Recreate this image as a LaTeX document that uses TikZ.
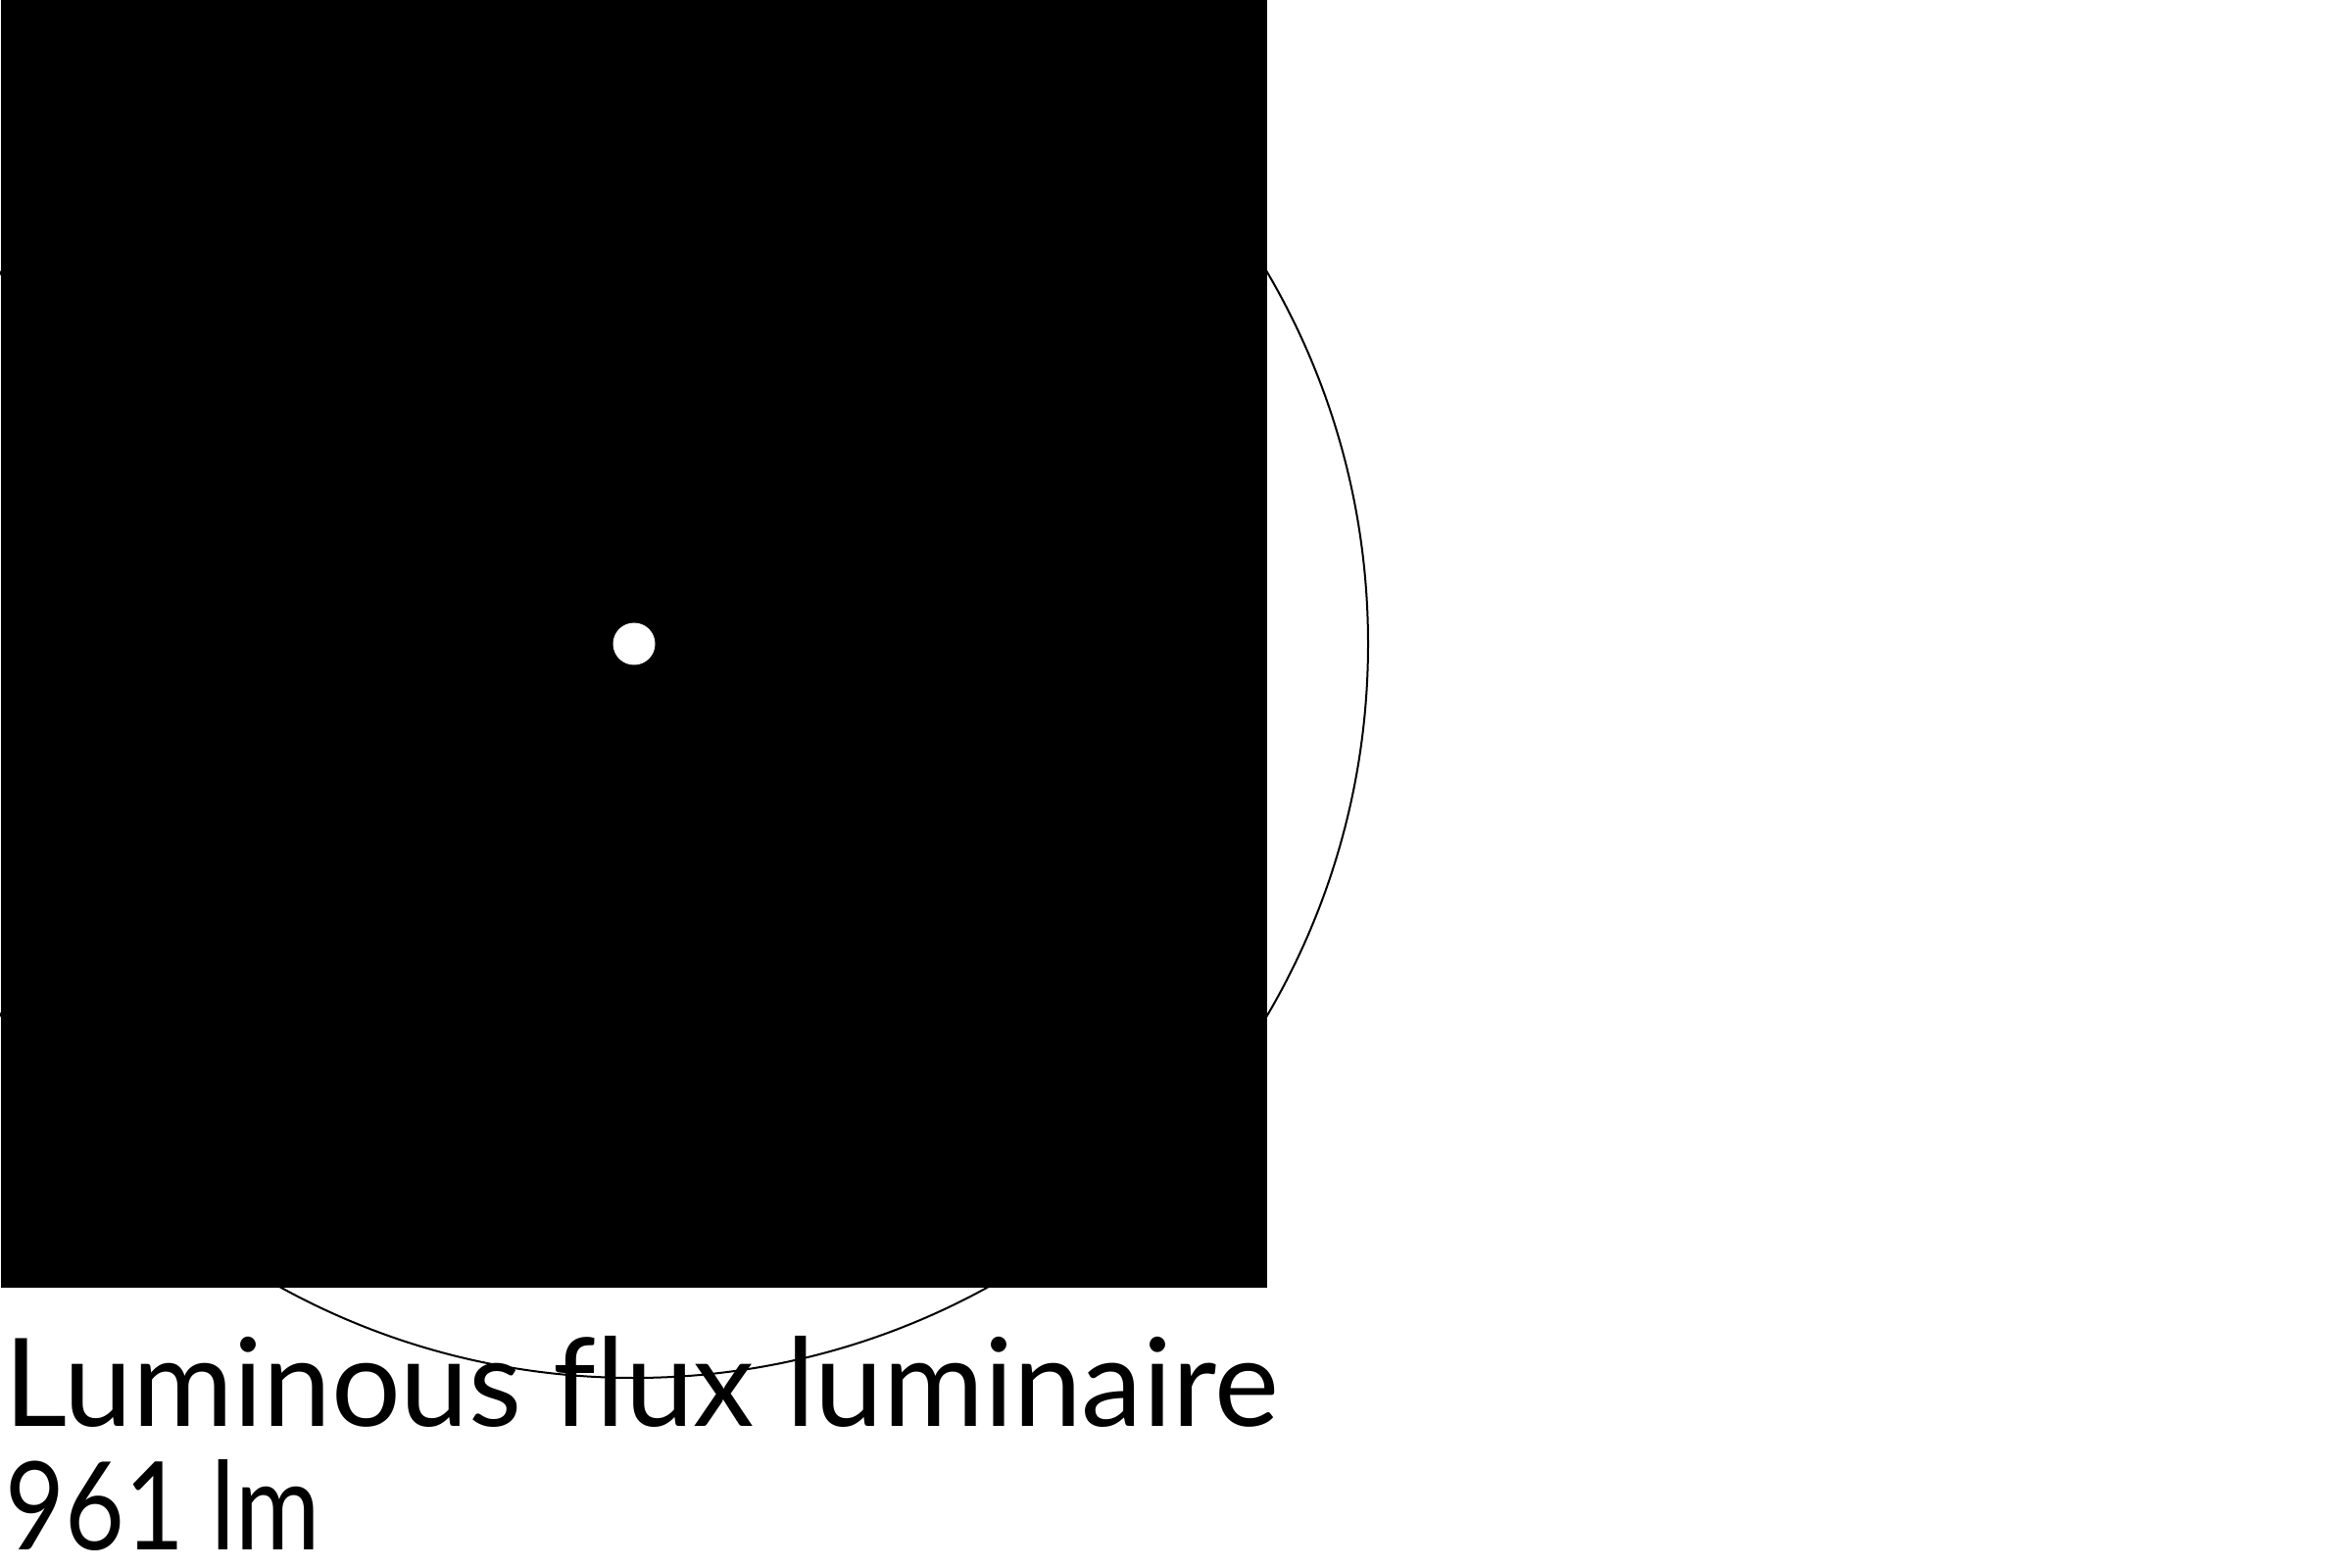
\documentclass[tikz,border=0pt]{standalone}
\usepackage{fontspec}
\setmainfont{Lato}[Ligatures=CommonOff]
\begin{document}
\begin{tikzpicture}[x=0.3pt,y=-0.3pt,
  lbl/.style={anchor=base west,inner sep=0pt,outer sep=0pt,text depth=0pt,font=\fontsize{37.5}{44}\selectfont}]
\useasboundingbox (0,0) rectangle (2400,1600);
\clip (0,0) rectangle (2400,1600);
\fill[white] (0,0) rectangle (2400,1600);
% circle behind the panel
\draw[line width=0.6pt] (647,657) circle[radius=749];
% black panel
\fill[black] (1,0) rectangle (1293,1314);
% centre dot
\fill[white] (647,657) circle[radius=21.5];
% labels
\node[lbl] (t1) at (5,1455) {Luminous flux luminaire};
\node[lbl,xscale=0.84] (t2) at (6,1581) {961 lm};
\end{tikzpicture}
\end{document}
